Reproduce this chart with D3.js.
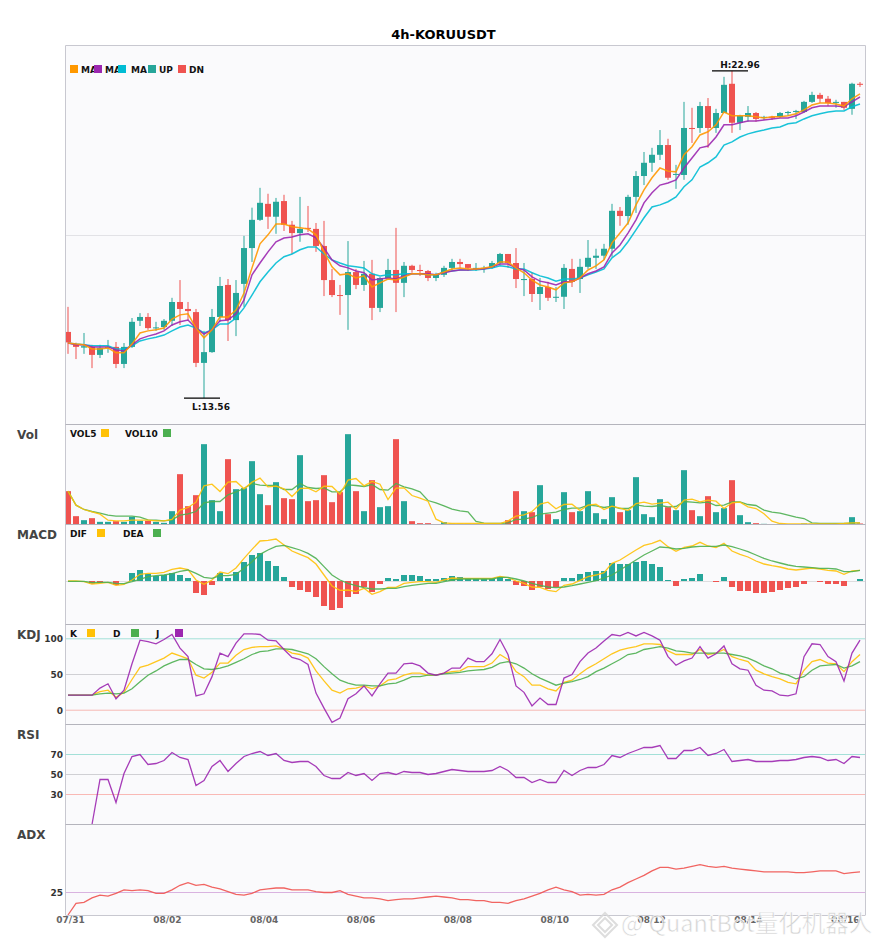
<!DOCTYPE html>
<html>
<head>
<meta charset="utf-8">
<script src="https://cdn.jsdelivr.net/npm/d3@7"></script>
<style>
html, body { margin: 0; padding: 0; background: #fff; }
svg { display: block; }
text { font-family: "DejaVu Sans", sans-serif; }
</style>
</head>
<body>
<div id="chart"></div>
<script>
var title = "4h-KORUUSDT";
var dateLabels = ["07/31", "08/02", "08/04", "08/06", "08/08", "08/10", "08/12", "08/14", "08/16"];
var dateStep = 12;

var open = [15.46,15.09,15.01,15.03,14.80,15.00,15.03,14.54,15.03,15.78,
15.89,15.57,15.60,15.78,16.32,16.12,16.03,14.57,14.88,15.89,
16.81,15.80,16.84,17.87,18.68,19.14,18.77,19.22,18.54,18.30,
18.45,18.42,17.93,16.95,16.52,16.52,17.18,16.81,17.13,16.15,
17.01,17.24,16.87,17.36,17.24,17.21,17.01,17.10,17.30,17.47,
17.41,17.27,17.27,17.30,17.44,17.70,17.44,16.95,16.98,16.55,
16.75,16.44,16.47,17.27,16.98,17.33,17.59,17.65,17.85,18.94,
18.79,19.34,19.94,20.32,20.55,20.83,19.98,19.97,21.32,21.32,
21.95,21.32,21.75,22.59,21.47,21.64,21.75,21.61,21.64,21.64,
21.75,21.78,21.78,22.07,22.27,22.16,22.04,22.07,21.87,22.59];
var high = [16.18,15.15,15.43,15.09,15.09,15.23,15.17,15.14,15.86,16.00,
16.00,15.75,15.83,16.44,16.95,16.32,16.12,15.49,16.12,17.04,
16.98,16.95,18.22,19.03,19.60,19.43,19.31,19.40,18.65,19.34,
19.08,18.59,18.65,17.27,16.81,18.07,17.27,17.50,17.53,17.04,
17.56,18.45,17.47,17.39,17.39,17.24,17.16,17.36,17.56,17.56,
17.41,17.44,17.36,17.50,17.73,17.70,17.87,17.44,17.18,17.01,
16.90,16.75,17.41,17.56,17.56,18.10,17.85,17.99,19.14,19.05,
19.40,20.08,20.63,20.75,21.26,21.01,20.26,22.07,21.90,22.07,
22.18,21.87,22.79,22.96,21.70,21.95,21.78,21.67,21.67,21.78,
21.81,21.84,22.10,22.36,22.33,22.24,22.13,22.07,22.62,22.64];
var low = [14.83,14.68,14.83,14.42,14.71,14.86,14.42,14.42,15.00,15.63,
15.52,15.49,15.52,15.63,15.66,15.78,14.45,13.56,14.86,15.75,
15.20,15.34,16.18,17.47,18.65,18.42,18.28,18.36,17.70,18.05,
18.33,17.76,16.49,16.46,15.95,15.52,16.69,16.64,15.80,16.03,
16.98,16.03,16.46,17.16,17.07,16.92,16.92,17.04,17.24,17.30,
17.21,17.21,17.16,17.27,17.39,17.30,16.72,16.49,16.32,16.09,
16.35,16.32,16.12,16.75,16.58,17.27,17.27,17.53,17.62,18.51,
18.54,18.88,19.68,20.06,20.40,19.83,19.57,19.83,20.89,21.18,
20.75,21.18,21.75,21.18,21.26,21.50,21.50,21.55,21.55,21.61,
21.67,21.58,21.75,22.04,22.04,21.95,21.90,21.84,21.70,22.50];
var close = [15.16,15.03,15.05,14.80,15.00,15.03,14.54,15.03,15.75,15.89,
15.57,15.59,15.78,16.32,16.12,16.06,14.57,14.88,15.89,16.78,
15.80,16.58,17.87,18.68,19.17,18.77,19.20,18.54,18.30,18.42,
18.42,17.93,16.95,16.52,16.50,17.18,16.81,17.13,16.15,17.01,
17.24,16.87,17.36,17.24,17.21,17.01,17.10,17.30,17.47,17.41,
17.30,17.30,17.30,17.44,17.70,17.44,16.98,16.98,16.55,16.75,
16.44,16.47,17.30,16.90,17.33,17.59,17.65,17.85,18.94,18.79,
19.34,19.94,20.32,20.55,20.83,19.89,20.00,21.32,21.29,21.95,
21.32,21.75,22.56,21.47,21.67,21.75,21.58,21.64,21.61,21.75,
21.78,21.81,22.07,22.27,22.16,22.04,22.07,21.90,22.59,22.56];

var ma5 = [15.14,15.11,15.09,14.97,14.97,15.00,14.86,14.86,15.11,15.43,
15.49,15.52,15.57,15.83,15.95,15.98,15.57,15.29,15.52,15.89,
15.89,16.09,16.58,17.30,17.99,18.25,18.56,18.56,18.48,18.45,
18.42,18.25,17.76,17.33,17.10,17.13,17.01,17.07,16.75,16.87,
16.98,16.95,17.04,17.13,17.13,17.10,17.10,17.18,17.27,17.30,
17.27,17.27,17.30,17.33,17.47,17.47,17.30,17.16,16.95,16.81,
16.75,16.67,16.87,16.90,17.01,17.24,17.36,17.53,18.02,18.30,
18.59,19.11,19.54,19.89,20.17,20.08,20.06,20.55,20.78,21.12,
21.21,21.41,21.78,21.67,21.67,21.67,21.64,21.61,21.64,21.64,
21.67,21.73,21.84,21.98,22.04,22.04,22.01,21.95,22.16,22.30];
var ma10 = [15.14,15.09,15.09,15.03,15.03,15.03,14.94,14.91,15.09,15.26,
15.34,15.40,15.49,15.66,15.75,15.80,15.57,15.40,15.52,15.78,
15.80,15.98,16.38,17.10,17.44,17.76,18.05,18.16,18.19,18.25,
18.28,18.16,17.87,17.53,17.36,17.30,17.21,17.16,16.95,16.98,
17.01,16.98,17.07,17.13,17.13,17.13,17.10,17.16,17.21,17.24,
17.24,17.27,17.27,17.33,17.41,17.41,17.30,17.24,17.04,16.92,
16.87,16.81,16.90,16.90,17.01,17.13,17.21,17.33,17.73,17.96,
18.30,18.68,19.17,19.46,19.68,19.74,19.83,20.17,20.46,20.75,
20.80,21.06,21.41,21.41,21.47,21.52,21.52,21.55,21.58,21.61,
21.61,21.67,21.78,21.90,21.95,21.95,21.95,21.93,22.07,22.21];
var ma20 = [15.14,15.11,15.09,15.06,15.06,15.06,14.97,14.97,15.06,15.20,
15.26,15.31,15.37,15.49,15.60,15.66,15.57,15.43,15.52,15.69,
15.69,15.86,16.15,16.52,16.90,17.18,17.44,17.62,17.70,17.82,
17.90,17.90,17.70,17.53,17.44,17.36,17.33,17.30,17.13,17.07,
17.10,17.10,17.13,17.13,17.13,17.10,17.10,17.18,17.21,17.24,
17.24,17.24,17.27,17.30,17.36,17.33,17.27,17.27,17.16,17.07,
17.01,16.92,16.98,16.98,17.01,17.10,17.18,17.27,17.59,17.76,
18.05,18.39,18.74,19.05,19.11,19.20,19.34,19.63,19.83,20.20,
20.32,20.49,20.83,20.92,21.06,21.15,21.21,21.26,21.32,21.35,
21.44,21.47,21.58,21.67,21.73,21.78,21.81,21.81,21.93,22.01];

var vol = [100,25,13,19,8,8,10,8,23,11,
11,8,5,40,151,55,88,241,73,40,
196,106,109,190,91,58,127,79,76,208,
70,73,148,67,97,271,100,40,133,52,
55,256,70,10,4,4,1,7,2,2,
2,2,1,1,1,13,100,40,37,118,
31,16,97,37,40,100,34,16,82,37,
43,142,31,22,76,52,43,163,43,25,
85,37,49,133,28,7,4,2,1,2,
1,1,3,2,2,2,2,2,22,3];
var vol5 = [100,58,45,38,31,13,11,11,13,13,
13,11,11,15,43,51,67,116,121,99,
127,129,107,127,139,113,115,107,84,108,
109,98,115,114,91,133,138,116,129,121,
75,109,110,87,79,70,16,5,3,3,
3,3,3,3,3,11,25,29,39,61,
67,47,60,61,42,58,61,45,55,49,
42,63,67,61,64,67,46,73,76,68,
73,70,48,65,67,53,48,32,10,3,
2,2,2,2,2,2,2,3,5,5];
var vol10 = [100,58,45,39,34,28,25,25,25,22,
14,13,11,14,28,32,39,65,69,69,
89,98,108,123,118,117,117,105,105,123,
111,108,110,98,98,119,117,114,120,105,
103,123,113,107,98,72,65,56,46,41,
38,9,4,3,3,5,15,16,21,31,
34,37,45,49,49,58,56,51,55,48,
48,59,55,54,57,53,54,69,67,65,
67,57,58,68,68,60,57,43,37,34,
28,22,18,5,3,3,3,3,4,5];

var macdHist = [0,0,0,-0.08,-0.06,0,-0.12,0,0.24,0.33,
0.21,0.15,0.18,0.24,0.18,0.09,-0.36,-0.42,-0.12,0.24,
0.09,0.27,0.57,0.78,0.84,0.60,0.45,0.12,-0.18,-0.27,
-0.33,-0.48,-0.75,-0.87,-0.81,-0.48,-0.39,-0.18,-0.33,-0.09,
0.09,0.06,0.18,0.18,0.15,0.06,0.06,0.09,0.15,0.12,
0.06,0.06,0.06,0.06,0.12,0.06,-0.12,-0.15,-0.27,-0.18,
-0.24,-0.18,0.09,0.09,0.21,0.27,0.30,0.30,0.54,0.51,
0.51,0.57,0.60,0.51,0.42,0.03,-0.15,0.06,0.09,0.21,
0,-0.03,0.12,-0.18,-0.30,-0.30,-0.36,-0.36,-0.33,-0.27,
-0.21,-0.18,-0.09,0,-0.03,-0.09,-0.09,-0.15,0,0.06];
var dif = [0,0,-0.02,-0.09,-0.07,-0.04,-0.13,-0.10,0.03,0.20,
0.23,0.23,0.26,0.35,0.39,0.34,0.03,-0.10,0.03,0.27,
0.22,0.39,0.68,0.95,1.20,1.22,1.26,1.08,0.90,0.80,
0.70,0.51,0.18,-0.15,-0.28,-0.27,-0.32,-0.22,-0.40,-0.32,
-0.19,-0.19,-0.07,-0.04,-0.02,-0.02,-0.04,0.03,0.09,0.08,
0.08,0.08,0.08,0.08,0.14,0.10,0,-0.07,-0.18,-0.19,
-0.28,-0.32,-0.13,-0.09,0.02,0.13,0.18,0.25,0.53,0.63,
0.78,0.93,1.07,1.13,1.22,1.03,0.89,1.01,1.05,1.16,
1.05,1.00,1.13,0.90,0.80,0.72,0.60,0.51,0.46,0.42,
0.36,0.33,0.36,0.39,0.36,0.32,0.30,0.20,0.30,0.32];
var dea = [-0.01,-0.01,-0.01,-0.05,-0.04,-0.04,-0.07,-0.08,-0.02,0.05,
0.13,0.16,0.18,0.22,0.29,0.33,0.23,0.11,0.08,0.16,
0.16,0.20,0.38,0.58,0.80,0.93,1.04,1.07,1.00,0.93,
0.83,0.68,0.43,0.18,0.03,-0.07,-0.14,-0.20,-0.24,-0.24,
-0.22,-0.22,-0.17,-0.13,-0.10,-0.07,-0.07,-0.02,0.03,0.06,
0.06,0.06,0.06,0.06,0.11,0.11,0.06,0,-0.07,-0.13,
-0.18,-0.20,-0.18,-0.14,-0.09,-0.04,0.01,0.09,0.18,0.33,
0.48,0.63,0.78,0.90,1.02,1.00,0.96,0.98,1.02,1.04,
1.04,1.04,1.08,1.03,0.96,0.88,0.78,0.68,0.60,0.54,
0.48,0.44,0.42,0.40,0.38,0.38,0.36,0.28,0.28,0.32];

var kdjK = [21,21,21,21,26,28,18,25,43,60,
63,68,73,80,76,72,49,45,53,66,
66,77,85,88,89,89,90,86,80,78,
73,55,41,28,24,30,31,34,30,34,
42,44,49,52,52,49,49,52,54,55,
61,61,61,66,78,71,54,47,35,35,
30,27,39,42,51,59,65,72,79,84,
87,89,93,93,92,83,78,78,78,85,
78,80,85,75,71,68,56,51,47,44,
39,37,56,68,71,66,65,54,68,78];
var kdjD = [21,21,21,21,23,24,23,24,30,40,
49,55,62,67,71,71,64,58,57,59,
62,67,72,78,82,83,86,86,85,82,
79,72,61,51,42,38,35,35,34,34,
37,38,42,47,47,49,49,51,52,53,
55,56,57,60,66,68,65,59,51,45,
40,35,38,40,43,47,54,59,65,71,
78,80,85,87,89,87,83,82,80,80,
80,80,80,78,76,73,68,62,58,52,
49,44,47,56,62,63,64,59,62,68];
var kdjJ = [21,21,21,21,31,37,16,28,65,98,
96,93,99,106,87,75,20,23,47,80,
75,94,107,107,106,98,97,85,74,71,
64,24,3,-17,-11,16,23,34,20,37,
52,52,65,66,62,52,49,52,59,59,
73,68,68,79,99,78,34,25,6,17,
8,8,45,50,68,80,87,97,106,104,
109,104,109,104,98,75,63,69,73,89,
73,79,90,65,58,56,35,28,27,21,
20,23,75,93,92,75,68,41,80,98];

var rsi = [null,null,null,0,45,45,22,51,68,70,
60,61,64,72,67,65,39,44,58,64,
53,61,68,71,73,69,71,64,62,63,
63,58,49,46,46,52,49,51,44,51,
52,50,53,52,52,50,51,53,55,54,
53,53,53,54,58,54,47,47,42,45,
42,42,54,49,54,57,57,60,69,67,
71,74,77,77,79,66,66,74,74,77,
69,71,75,63,64,65,63,63,63,64,
64,65,67,68,67,64,65,61,68,67];
var adx = [0,13,14,19,22,21,24,28,27,28,
27,24,24,28,33,36,33,34,31,29,
26,23,22,24,28,29,30,30,28,28,
28,26,25,25,27,23,21,19,19,18,
16,17,18,18,19,20,21,20,19,17,
17,16,16,14,14,13,16,18,21,24,
28,31,28,26,22,23,22,23,28,31,
36,40,44,49,53,53,51,52,54,56,
54,53,54,52,51,50,49,48,48,48,
48,47,47,48,49,49,49,46,47,48];

var kdjTicks = [0, 50, 100];
var rsiTicks = [30, 50, 70];
var adxTicks = [25];

var upColor = "#26A69A", downColor = "#EF5350";
var yellow = "#FFC107", green = "#4CAF50", purple = "#9C27B0";

var svgWidth = 885, svgHeight = 950;
var left = 65.5, right = 865.5;

var svg = d3.select("#chart").append("svg")
  .attr("width", svgWidth)
  .attr("height", svgHeight);

var idx = d3.range(open.length);

var x = d3.scaleBand().domain(idx).range([64, 864]).paddingInner(0.25).paddingOuter(0.125);
function cx(i) { return x(i) + x.bandwidth() / 2; }

// one scale per panel, tops and bottoms follow the picture
var yPrice = d3.scaleLinear().domain([12.80, 23.69]).range([424.5, 45.5]);
var yVol = d3.scaleLinear().domain([0, 300]).range([524.5, 424.5]);
var yMacd = d3.scaleLinear().domain([-1.305, 1.695]).range([624.5, 524.5]);
var yKdj = d3.scaleLinear().domain([-20, 120]).range([724.5, 624.5]);
var yRsi = d3.scaleLinear().domain([0, 100]).range([824.5, 724.5]);
var yAdx = d3.scaleLinear().domain([0, 100]).range([915, 825]);

svg.append("rect")
  .attr("x", left).attr("y", 45.5)
  .attr("width", right - left).attr("height", 915 - 45.5)
  .attr("fill", "#fafafc");

function hline(y, color) {
  svg.append("line")
    .attr("x1", left).attr("x2", right)
    .attr("y1", y).attr("y2", y)
    .attr("stroke", color);
}

hline(Math.round(yPrice(18.245)) + 0.5, "#e2e2e6");
hline(Math.round(yMacd(0)) + 0.5, "#dddddf");
hline(yKdj(100), "#a3e0d8");
hline(yKdj(50), "#d0d0d4");
hline(yKdj(0), "#f6b9b5");
hline(yRsi(70), "#a3e0d8");
hline(yRsi(50), "#d0d0d4");
hline(yRsi(30), "#f9b9b5");
hline(yAdx(25), "#d9b3e0");

// candles
var candle = svg.append("g").selectAll("g")
  .data(idx)
  .enter()
  .append("g")
  .attr("fill", function(i) { return close[i] >= open[i] ? upColor : downColor; })
  .attr("stroke", function(i) { return close[i] >= open[i] ? upColor : downColor; });

candle.append("line")
  .attr("x1", cx).attr("x2", cx)
  .attr("y1", function(i) { return yPrice(high[i]); })
  .attr("y2", function(i) { return yPrice(low[i]); })
  .attr("stroke-width", 1);

candle.append("rect")
  .attr("x", function(i) { return x(i); })
  .attr("width", x.bandwidth())
  .attr("y", function(i) { return yPrice(Math.max(open[i], close[i])); })
  .attr("height", function(i) { return Math.max(1, Math.abs(yPrice(open[i]) - yPrice(close[i]))); })
  .attr("stroke", "none");

function drawLine(values, scale, color, width) {
  var line = d3.line()
    .defined(function(d) { return d != null; })
    .x(function(d, i) { return cx(i); })
    .y(function(d) { return scale(d); });
  svg.append("path")
    .attr("d", line(values))
    .attr("fill", "none")
    .attr("stroke", color)
    .attr("stroke-width", width)
    .attr("stroke-opacity", 0.9);
}

drawLine(ma20, yPrice, "#00BCD4", 1.5);
drawLine(ma10, yPrice, purple, 1.5);
drawLine(ma5, yPrice, "#FF9800", 1.5);

// volume
svg.append("g").selectAll("rect")
  .data(vol)
  .enter()
  .append("rect")
  .attr("x", function(d, i) { return x(i); })
  .attr("width", x.bandwidth())
  .attr("y", function(d) { return yVol(d); })
  .attr("height", function(d) { return yVol(0) - yVol(d); })
  .attr("fill", function(d, i) { return close[i] >= open[i] ? upColor : downColor; });

drawLine(vol10, yVol, green, 1.3);
drawLine(vol5, yVol, yellow, 1.3);

// macd
svg.append("g").selectAll("rect")
  .data(macdHist)
  .enter()
  .append("rect")
  .attr("x", function(d, i) { return x(i); })
  .attr("width", x.bandwidth())
  .attr("y", function(d) { return yMacd(Math.max(d, 0)); })
  .attr("height", function(d) { return Math.abs(yMacd(d) - yMacd(0)); })
  .attr("fill", function(d) { return d >= 0 ? upColor : downColor; });

drawLine(dif, yMacd, yellow, 1.3);
drawLine(dea, yMacd, green, 1.3);

drawLine(kdjK, yKdj, yellow, 1.3);
drawLine(kdjD, yKdj, green, 1.3);
drawLine(kdjJ, yKdj, purple, 1.3);

drawLine(rsi, yRsi, purple, 1.3);
drawLine(adx, yAdx, downColor, 1.3);

// panel frame
svg.append("line").attr("x1", left).attr("x2", left).attr("y1", 45.5).attr("y2", 915).attr("stroke", "#c8c8d0");
svg.append("line").attr("x1", right).attr("x2", right).attr("y1", 45.5).attr("y2", 915).attr("stroke", "#c8c8d0");
hline(45.5, "#c8c8d0");
[424.5, 524.5, 624.5, 724.5, 824.5].forEach(function(y) { hline(y, "#b4b4bc"); });
hline(915.5, "#c8c8d0");

// high and low markers
function marker(i, value, textY, textDx, label) {
  var y = yPrice(value);
  svg.append("line")
    .attr("x1", cx(i) - 20).attr("x2", cx(i) + 16)
    .attr("y1", y).attr("y2", y)
    .attr("stroke", "#000").attr("stroke-width", 1.2);
  svg.append("text")
    .attr("x", cx(i) + textDx).attr("y", y + textY)
    .attr("text-anchor", "middle")
    .attr("font-size", 9).attr("font-weight", "bold")
    .attr("fill", "#111")
    .text(label);
}
marker(83, d3.max(high), -3, 8, "H:" + d3.max(high));
marker(17, d3.min(low), 12, 7, "L:" + d3.min(low));

// axes
function tickAxis(scale, values) {
  var g = svg.append("g")
    .attr("transform", "translate(" + left + ",0)")
    .call(d3.axisLeft(scale).tickValues(values).tickSize(0).tickPadding(2.5));
  g.select(".domain").remove();
  g.selectAll("text")
    .attr("font-family", "DejaVu Sans")
    .attr("font-size", 9)
    .attr("font-weight", "bold")
    .attr("fill", "#333");
}
tickAxis(yKdj, kdjTicks);
tickAxis(yRsi, rsiTicks);
tickAxis(yAdx, adxTicks);

var xDates = d3.scalePoint().domain(idx).range([70, 869]);
var xAxis = d3.axisBottom(xDates)
  .tickValues(dateLabels.map(function(d, k) { return k * dateStep; }))
  .tickFormat(function(d) { return dateLabels[d / dateStep]; })
  .tickSize(0)
  .tickPadding(2);
var xAxisG = svg.append("g").attr("transform", "translate(0,915)").call(xAxis);
xAxisG.select(".domain").remove();
xAxisG.selectAll("text")
  .attr("font-family", "DejaVu Sans")
  .attr("font-size", 9)
  .attr("font-weight", "bold")
  .attr("fill", "#666");

// title and panel names
svg.append("text")
  .attr("x", 443.5).attr("y", 39)
  .attr("text-anchor", "middle")
  .attr("font-size", 13).attr("font-weight", "bold")
  .attr("fill", "#000")
  .text(title);

[["Vol", 439], ["MACD", 539], ["KDJ", 639], ["RSI", 739], ["ADX", 839]].forEach(function(d) {
  svg.append("text")
    .attr("x", 17).attr("y", d[1])
    .attr("font-size", 12).attr("font-weight", "bold")
    .attr("fill", "#444")
    .text(d[0]);
});

// legends
function legend(y, items) {
  items.forEach(function(d) {
    svg.append("text")
      .attr("x", d.tx).attr("y", y + 7.5)
      .attr("font-size", 9).attr("font-weight", "bold")
      .attr("fill", "#111")
      .text(d.label);
  });
  items.forEach(function(d) {
    svg.append("rect")
      .attr("x", d.sx).attr("y", y)
      .attr("width", 8).attr("height", 8)
      .attr("fill", d.color);
  });
}
legend(65, [
  {label: "MA", tx: 81, sx: 70, color: "#FF9800"},
  {label: "MA", tx: 105, sx: 94, color: purple},
  {label: "MA", tx: 131, sx: 118, color: "#00BCD4"},
  {label: "UP", tx: 159, sx: 148, color: upColor},
  {label: "DN", tx: 189, sx: 178, color: downColor}
]);
legend(429, [
  {label: "VOL5", tx: 70, sx: 101, color: yellow},
  {label: "VOL10", tx: 125, sx: 163, color: green}
]);
legend(529, [
  {label: "DIF", tx: 70, sx: 97, color: yellow},
  {label: "DEA", tx: 123, sx: 153, color: green}
]);
legend(629, [
  {label: "K", tx: 70, sx: 87, color: yellow},
  {label: "D", tx: 113, sx: 131, color: green},
  {label: "J", tx: 156, sx: 175, color: purple}
]);

// watermark
var mark = svg.append("g").attr("transform", "translate(605,925)")
  .attr("fill", "none").attr("stroke", "#d8d8d8").attr("stroke-width", 2).attr("opacity", 0.85);
[12, 7].forEach(function(r) {
  mark.append("path").attr("d", "M0," + (-r) + "L" + r + ",0L0," + r + "L" + (-r) + ",0Z");
});
svg.append("text")
  .attr("x", 621).attr("y", 932)
  .style("font-family", "'Noto Sans CJK SC', 'DejaVu Sans', sans-serif")
  .attr("font-size", 23.5)
  .attr("fill", "#c8c8c8")
  .attr("fill-opacity", 0.8)
  .attr("stroke", "#ffffff")
  .attr("stroke-width", 0.6)
  .text("@ QuantBot量化机器人");
</script>
</body>
</html>
